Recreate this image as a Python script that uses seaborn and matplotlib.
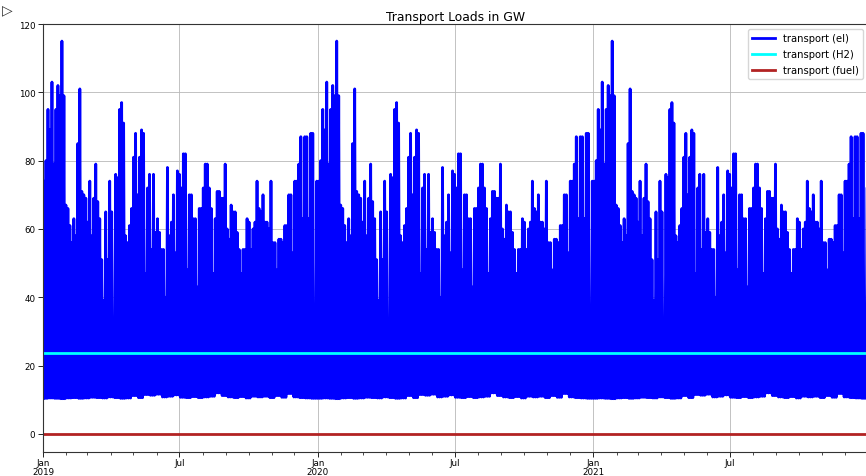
import numpy as np
import pandas as pd
import matplotlib.pyplot as plt
import matplotlib.dates as mdates
from matplotlib.ticker import FuncFormatter
import seaborn as sns

years = [2019, 2020, 2021]

# upper envelope (daily peaks) of the electric transport load in GW,
# one value per ~2.6 days, the profile is the same every year
el_peaks = [74, 80, 95, 89, 103, 79, 95, 102, 99, 115, 99, 67, 66, 61, 56, 63,
            58, 85, 101, 71, 70, 69, 62, 74, 58, 69, 79, 68, 63, 51, 39, 65,
            51, 74, 65, 32, 76, 75, 95, 97, 91, 58, 56, 61, 66, 81, 88, 70,
            81, 89, 88, 47, 72, 76, 54, 76, 59, 63, 59, 54, 54, 40, 78, 58,
            62, 70, 53, 77, 76, 72, 82, 82, 48, 70, 70, 63, 63, 43, 66, 66,
            72, 79, 79, 72, 66, 47, 63, 71, 71, 69, 69, 79, 60, 57, 67, 65,
            65, 59, 54, 47, 54, 54, 63, 62, 54, 60, 62, 74, 66, 65, 70, 62,
            62, 60, 74, 56, 56, 48, 57, 57, 56, 61, 61, 70, 70, 53, 74, 74,
            79, 87, 63, 87, 87, 63, 88, 88, 32, 74]

# lower envelope (night minimum), one value per ~8 days
el_troughs = [10.4, 10.5, 10.4, 10.3, 10.5, 10.6, 10.4, 10.5, 10.7, 10.6, 10.5, 10.8,
              10.6, 10.4, 10.5, 11.2, 10.6, 11.5, 11.3, 11.6, 10.8, 11.0, 11.4, 10.7,
              10.6, 10.9, 10.6, 10.8, 11.0, 12.0, 11.2, 10.8, 10.6, 10.9, 10.5, 11.0,
              10.8, 11.0, 10.6, 11.2, 10.7, 11.8, 10.8, 10.6, 10.5, 10.4]

h2_level = 23.6
fuel_level = 0.0

# build the zig-zag load curve (trough, peak, trough, peak ...)
n = len(el_peaks)
rep = n // len(el_troughs)
frames = []
for yr in years:
    start = pd.Timestamp(f"{yr}-01-01")
    end = pd.Timestamp(f"{yr + 1}-01-01")
    step = (end - start) / n
    t_low = pd.DatetimeIndex([start + step * i for i in range(n)])
    t_high = t_low + step / 2
    lows = np.repeat(el_troughs, rep)
    times = np.empty(2 * n, dtype="datetime64[ns]")
    vals = np.empty(2 * n)
    times[0::2] = t_low.values
    times[1::2] = t_high.values
    vals[0::2] = lows
    vals[1::2] = el_peaks
    frames.append(pd.DataFrame({"time": times, "load": vals}))
el = pd.concat(frames, ignore_index=True)

t0 = pd.Timestamp(f"{years[0]}-01-01")
t1 = pd.Timestamp(f"{years[-1] + 1}-01-01") - pd.Timedelta(hours=1)
flat = pd.DataFrame({"time": [t0, t1],
                     "h2": [h2_level, h2_level],
                     "fuel": [fuel_level, fuel_level]})

fig = plt.figure(figsize=(8.66, 4.77), dpi=100)
ax = fig.add_axes([43 / 866, 1 - 453 / 477, (868 - 43) / 866, (453 - 25) / 477])

sns.lineplot(data=el, x="time", y="load", color="blue", lw=2, estimator=None,
             label="transport (el)", ax=ax)
sns.lineplot(data=flat, x="time", y="h2", color="cyan", lw=2,
             label="transport (H2)", ax=ax)
sns.lineplot(data=flat, x="time", y="fuel", color="firebrick", lw=2,
             label="transport (fuel)", ax=ax)

ax.set_xlim(t0, t1)
ax.set_ylim(-5.3, 120)
ax.set_yticks([0, 20, 40, 60, 80, 100, 120])
ax.set_xlabel("")
ax.set_ylabel("")

ax.xaxis.set_major_locator(mdates.MonthLocator(bymonth=[1, 7]))
ax.xaxis.set_minor_locator(mdates.MonthLocator())


def fmt_date(x, pos):
    d = mdates.num2date(x)
    if d.month == 1:
        return d.strftime("%b\n%Y")
    return d.strftime("%b")


ax.xaxis.set_major_formatter(FuncFormatter(fmt_date))
ax.tick_params(axis="both", which="major", labelsize=6.3, length=3.5, width=0.6, pad=2)
ax.tick_params(axis="x", which="major", pad=1)
ax.tick_params(axis="x", which="minor", length=2, width=0.5)
for lbl in ax.get_xticklabels():
    lbl.set_linespacing(0.95)
ax.grid(True, which="major", color="#b8b8b8", lw=0.6)
for sp in ax.spines.values():
    sp.set_linewidth(0.8)
    sp.set_color("#333333")

ax.set_title("Transport Loads in GW", fontsize=8.9, pad=3)
ax.legend(loc="upper right", fontsize=7.2, handlelength=2.3, labelspacing=0.6,
          borderaxespad=0.5, edgecolor="#cccccc")

fig.text(0.002, 0.978, "\u25b7", fontsize=10, ha="left", va="center", color="#333333")

fig.savefig("out.png", dpi=100)
